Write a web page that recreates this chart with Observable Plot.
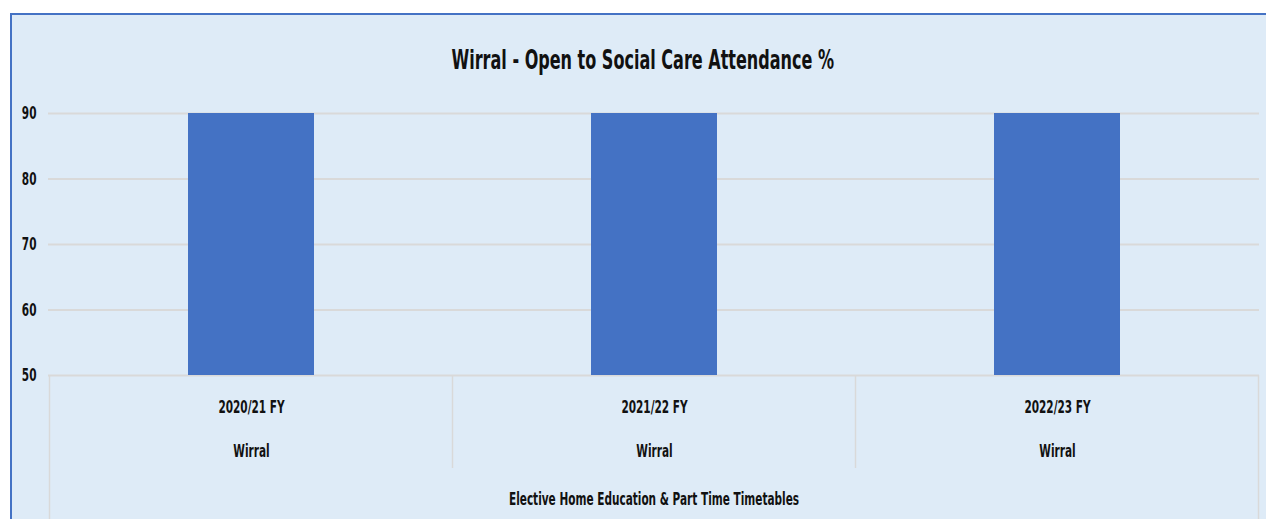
<!DOCTYPE html>
<html><head><meta charset="utf-8">
<script src="https://cdn.jsdelivr.net/npm/d3@7"></script>
<script src="https://cdn.jsdelivr.net/npm/@observablehq/plot@0.6"></script>
<style>
html,body{margin:0;padding:0;background:#fff;width:1266px;height:519px;overflow:hidden;}
#card{position:absolute;left:10px;top:13px;width:1256px;height:506px;box-sizing:border-box;border-top:2px solid #4472c4;border-left:2px solid #4472c4;background:#deebf7;}
#titlewrap{position:absolute;left:8px;right:0;top:30px;text-align:center;}
#title{display:inline-block;transform:scaleX(0.66);transform-origin:50% 50%;white-space:nowrap;font-family:"DejaVu Sans Condensed","DejaVu Sans",sans-serif;font-stretch:condensed;font-weight:bold;font-size:27px;line-height:30px;color:#111;}
#chart{position:absolute;left:0;top:75px;}
svg text{font-stretch:condensed;}
</style></head>
<body>
<div id="card"><div id="titlewrap"><span id="title">Wirral - Open to Social Care Attendance %</span></div><div id="chart"></div></div>
<script>
const categories = ["2020/21 FY", "2021/22 FY", "2022/23 FY"];
const regions = ["Wirral", "Wirral", "Wirral"];
const values = [90, 90, 90];
const groupLabel = "Elective Home Education & Part Time Timetables";
const yTicks = [50, 60, 70, 80, 90];

const data = categories.map((c, i) => ({cat: c, region: regions[i], value: values[i]}));

const dividers = (index, scales, vals, dim) => {
  const x = scales.x;
  const step = x.step(), bw = x.bandwidth();
  const bottom = dim.height - dim.marginBottom;
  const g = d3.create("svg:g").attr("stroke", "#d9d9d9").attr("stroke-width", 1.5);
  const edges = categories.map(c => x(c) + bw / 2 - step / 2);
  edges.push(x(categories[categories.length - 1]) + bw / 2 + step / 2);
  edges.forEach((e, i) => {
    const outer = i === 0 || i === edges.length - 1;
    g.append("line").attr("x1", e).attr("x2", e).attr("y1", bottom)
      .attr("y2", outer ? dim.height : bottom + 93);
  });
  return g.node();
};

const font = "'DejaVu Sans Condensed','DejaVu Sans',sans-serif";
const fs = 18;
const plot = Plot.plot({
  width: 1254, height: 429,
  marginLeft: 36, marginRight: 7, marginTop: 23, marginBottom: 144,
  style: {background: "transparent", fontFamily: font, fontSize: fs + "px", fontWeight: "bold", color: "#111", overflow: "visible"},
  x: {domain: categories, paddingInner: 0.688, paddingOuter: 0.344, axis: null},
  y: {domain: [50, 90], axis: null},
  marks: [
    Plot.gridY(yTicks, {stroke: "#d9d9d9", strokeWidth: 2, strokeOpacity: 1}),
    Plot.axisY(yTicks, {tickSize: 0, tickPadding: 12, fontSize: fs, fill: "#111", label: null}),
    Plot.barY(data, {x: "cat", y1: 50, y2: "value", fill: "#4472c4"}),
    dividers,
    Plot.text(data, {x: "cat", text: "cat", frameAnchor: "bottom", dy: 37, fontSize: fs, fill: "#111"}),
    Plot.text(data, {x: "cat", text: "region", frameAnchor: "bottom", dy: 81, fontSize: fs, fill: "#111"}),
    Plot.text([groupLabel], {text: d => d, frameAnchor: "bottom", dy: 129, fontSize: fs, fill: "#111"})
  ]
});
// narrow the glyphs horizontally around each text's anchor (the reference font is very condensed)
const sx = 0.65;
plot.querySelectorAll("text").forEach(t => {
  const x = t.getAttribute("x");
  if (x != null) t.setAttribute("x", (+x) / sx);
  t.setAttribute("transform", ((t.getAttribute("transform") || "") + ` scale(${sx},1)`).trim());
});
document.getElementById("chart").append(plot);
</script>
</body></html>
